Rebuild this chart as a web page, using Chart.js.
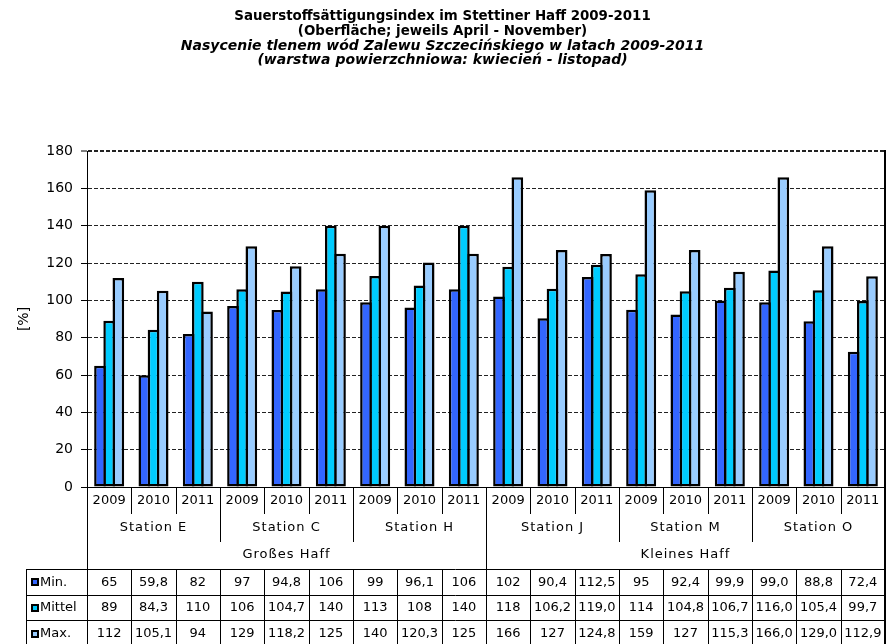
<!DOCTYPE html>
<html><head><meta charset="utf-8">
<script src="https://cdn.jsdelivr.net/npm/chart.js@4.4.1/dist/chart.umd.min.js"></script>
<style>html,body{margin:0;padding:0;background:#fff}#wrap{width:887px;height:644px}</style>
</head><body><div id="wrap"><canvas id="c" width="887" height="644"></canvas></div>
<script>
// ---- data ----
const years = ['2009', '2010', '2011'];
const stations = ['Station E', 'Station C', 'Station H', 'Station J', 'Station M', 'Station O'];
const regions = ['Großes Haff', 'Kleines Haff'];
const seriesNames = ['Min.', 'Mittel', 'Max.'];
const minVals    = [65, 59.8, 82, 97, 94.8, 106, 99, 96.1, 106, 102, 90.4, 112.5, 95, 92.4, 99.9, 99.0, 88.8, 72.4];
const mittelVals = [89, 84.3, 110, 106, 104.7, 140, 113, 108, 140, 118, 106.2, 119.0, 114, 104.8, 106.7, 116.0, 105.4, 99.7];
const maxVals    = [112, 105.1, 94, 129, 118.2, 125, 140, 120.3, 125, 166, 127, 124.8, 159, 127, 115.3, 166.0, 129.0, 112.9];
const minText    = ['65','59,8','82','97','94,8','106','99','96,1','106','102','90,4','112,5','95','92,4','99,9','99,0','88,8','72,4'];
const mittelText = ['89','84,3','110','106','104,7','140','113','108','140','118','106,2','119,0','114','104,8','106,7','116,0','105,4','99,7'];
const maxText    = ['112','105,1','94','129','118,2','125','140','120,3','125','166','127','124,8','159','127','115,3','166,0','129,0','112,9'];
const yTicks = [0, 20, 40, 60, 80, 100, 120, 140, 160, 180];
const titleLines = ['Sauerstoffsättigungsindex im Stettiner Haff 2009-2011', '(Oberfläche; jeweils April - November)'];
const subtitleLines = ['Nasycenie tlenem wód Zalewu Szczecińskiego w latach 2009-2011', '(warstwa powierzchniowa: kwiecień - listopad)'];
const colors = ['#3366FF', '#00CCFF', '#99CCFF'];

const labels = [];
stations.forEach(s => years.forEach(y => labels.push(s + ' ' + y)));
const rowTexts = [minText, mittelText, maxText];

const tablePlugin = {
  id: 'dataTable',
  afterDraw(chart) {
    const ctx = chart.ctx, xs = chart.scales.x, ca = chart.chartArea;
    const n = labels.length;
    const w = (xs.right - xs.left) / n;
    const edge = i => (i < n ? xs.getPixelForValue(i) - w / 2 : xs.getPixelForValue(n - 1) + w / 2);
    const T = ca.top, B = ca.bottom, L = ca.left, R = ca.right;
    const yearBottom = 514, stationBottom = 542, tableTop = 569, rowH = 25.7, legendLeft = 26, H = 644;
    const px = v => Math.round(v) + 0.5;
    ctx.save();
    ctx.strokeStyle = '#000';
    ctx.lineWidth = 1;
    const line = (x1, y1, x2, y2) => { ctx.beginPath(); ctx.moveTo(x1, y1); ctx.lineTo(x2, y2); ctx.stroke(); };
    line(L, px(B), R, px(B));
    line(px(L), T, px(L), H);
    for (let i = 1; i < n; i++) {
      const x = px(edge(i));
      let bottom = yearBottom;
      if (i % 3 === 0) bottom = stationBottom;
      if (i % 9 === 0) bottom = H;
      line(x, B, x, bottom);
      line(x, tableTop, x, H);
    }
    for (let r = 0; r < 4; r++) {
      const y = px(tableTop + r * rowH);
      line(legendLeft, y, R, y);
    }
    line(px(legendLeft), tableTop, px(legendLeft), H);
    ctx.lineWidth = 2;
    line(R, T - 1, R, H);
    ctx.fillStyle = '#000';
    ctx.textBaseline = 'middle';
    ctx.textAlign = 'center';
    ctx.font = '13px "DejaVu Sans"';
    for (let i = 0; i < n; i++) {
      const cx = xs.getPixelForValue(i);
      ctx.fillText(years[i % 3], cx, 501);
      rowTexts.forEach((arr, r) => ctx.fillText(arr[i], cx, tableTop + r * rowH + rowH / 2 + 0.5));
    }
    try { ctx.letterSpacing = '1px'; } catch (e) {}
    stations.forEach((s, k) => {
      const cx = (edge(k * 3) + edge(k * 3 + 3)) / 2;
      ctx.fillText(s, cx, 528);
    });
    regions.forEach((s, k) => {
      const cx = (edge(k * 9) + edge(k * 9 + 9)) / 2;
      ctx.fillText(s, cx, 555);
    });
    try { ctx.letterSpacing = '0px'; } catch (e) {}
    ctx.textAlign = 'left';
    seriesNames.forEach((s, r) => {
      const cy = tableTop + r * rowH + rowH / 2 + 0.5;
      ctx.fillStyle = '#000';
      ctx.fillRect(31, Math.round(cy) - 4, 8, 8);
      ctx.fillStyle = colors[r];
      ctx.fillRect(33, Math.round(cy) - 2, 4, 4);
      ctx.fillStyle = '#000';
      ctx.fillText(s, 40, cy);
    });
    ctx.restore();
  }
};

new Chart(document.getElementById('c'), {
  type: 'bar',
  data: {
    labels: labels,
    datasets: [
      { label: seriesNames[0], data: minVals, backgroundColor: colors[0] },
      { label: seriesNames[1], data: mittelVals, backgroundColor: colors[1] },
      { label: seriesNames[2], data: maxVals, backgroundColor: colors[2] }
    ]
  },
  options: {
    responsive: false,
    animation: false,
    devicePixelRatio: 1,
    layout: { padding: { left: 0, right: 2, top: 0, bottom: 157 } },
    datasets: {
      bar: { categoryPercentage: 0.621, barPercentage: 1.273, borderColor: '#000', borderWidth: 2.5, borderSkipped: false, inflateAmount: 0 }
    },
    plugins: {
      legend: { display: false },
      tooltip: { enabled: false },
      title: {
        display: true, text: titleLines, color: '#000',
        font: { family: 'DejaVu Sans', size: 13.4, weight: 'bold', lineHeight: '14.5px' },
        padding: { top: 9.75, bottom: 0 }
      },
      subtitle: {
        display: true, text: subtitleLines, color: '#000',
        font: { family: 'DejaVu Sans', size: 14, weight: 'bold', style: 'italic', lineHeight: '14.5px' },
        padding: { top: 0, bottom: 83.25 }
      }
    },
    scales: {
      x: {
        ticks: { display: false },
        grid: { display: false },
        border: { display: false },
        afterFit(s) { s.height = 0; }
      },
      y: {
        min: 0, max: 180,
        afterBuildTicks(s) { s.ticks = yTicks.map(v => ({ value: v })); },
        ticks: { color: '#000', font: { family: 'DejaVu Sans', size: 14 }, padding: 8 },
        grid: {
          color: '#222',
          lineWidth: c => (c.tick && c.tick.value === 180 ? 2 : 1),
          tickLength: 6, tickColor: '#000', tickWidth: 1, tickBorderDash: []
        },
        border: { display: true, color: '#000', width: 1, dash: [4, 2] },
        title: { display: true, text: '[%]', color: '#000', font: { family: 'DejaVu Sans', size: 14 }, padding: { top: 15.6, bottom: 0 } },
        afterFit(s) { s.width = 87; }
      }
    }
  },
  plugins: [tablePlugin]
});
</script>
</body></html>
